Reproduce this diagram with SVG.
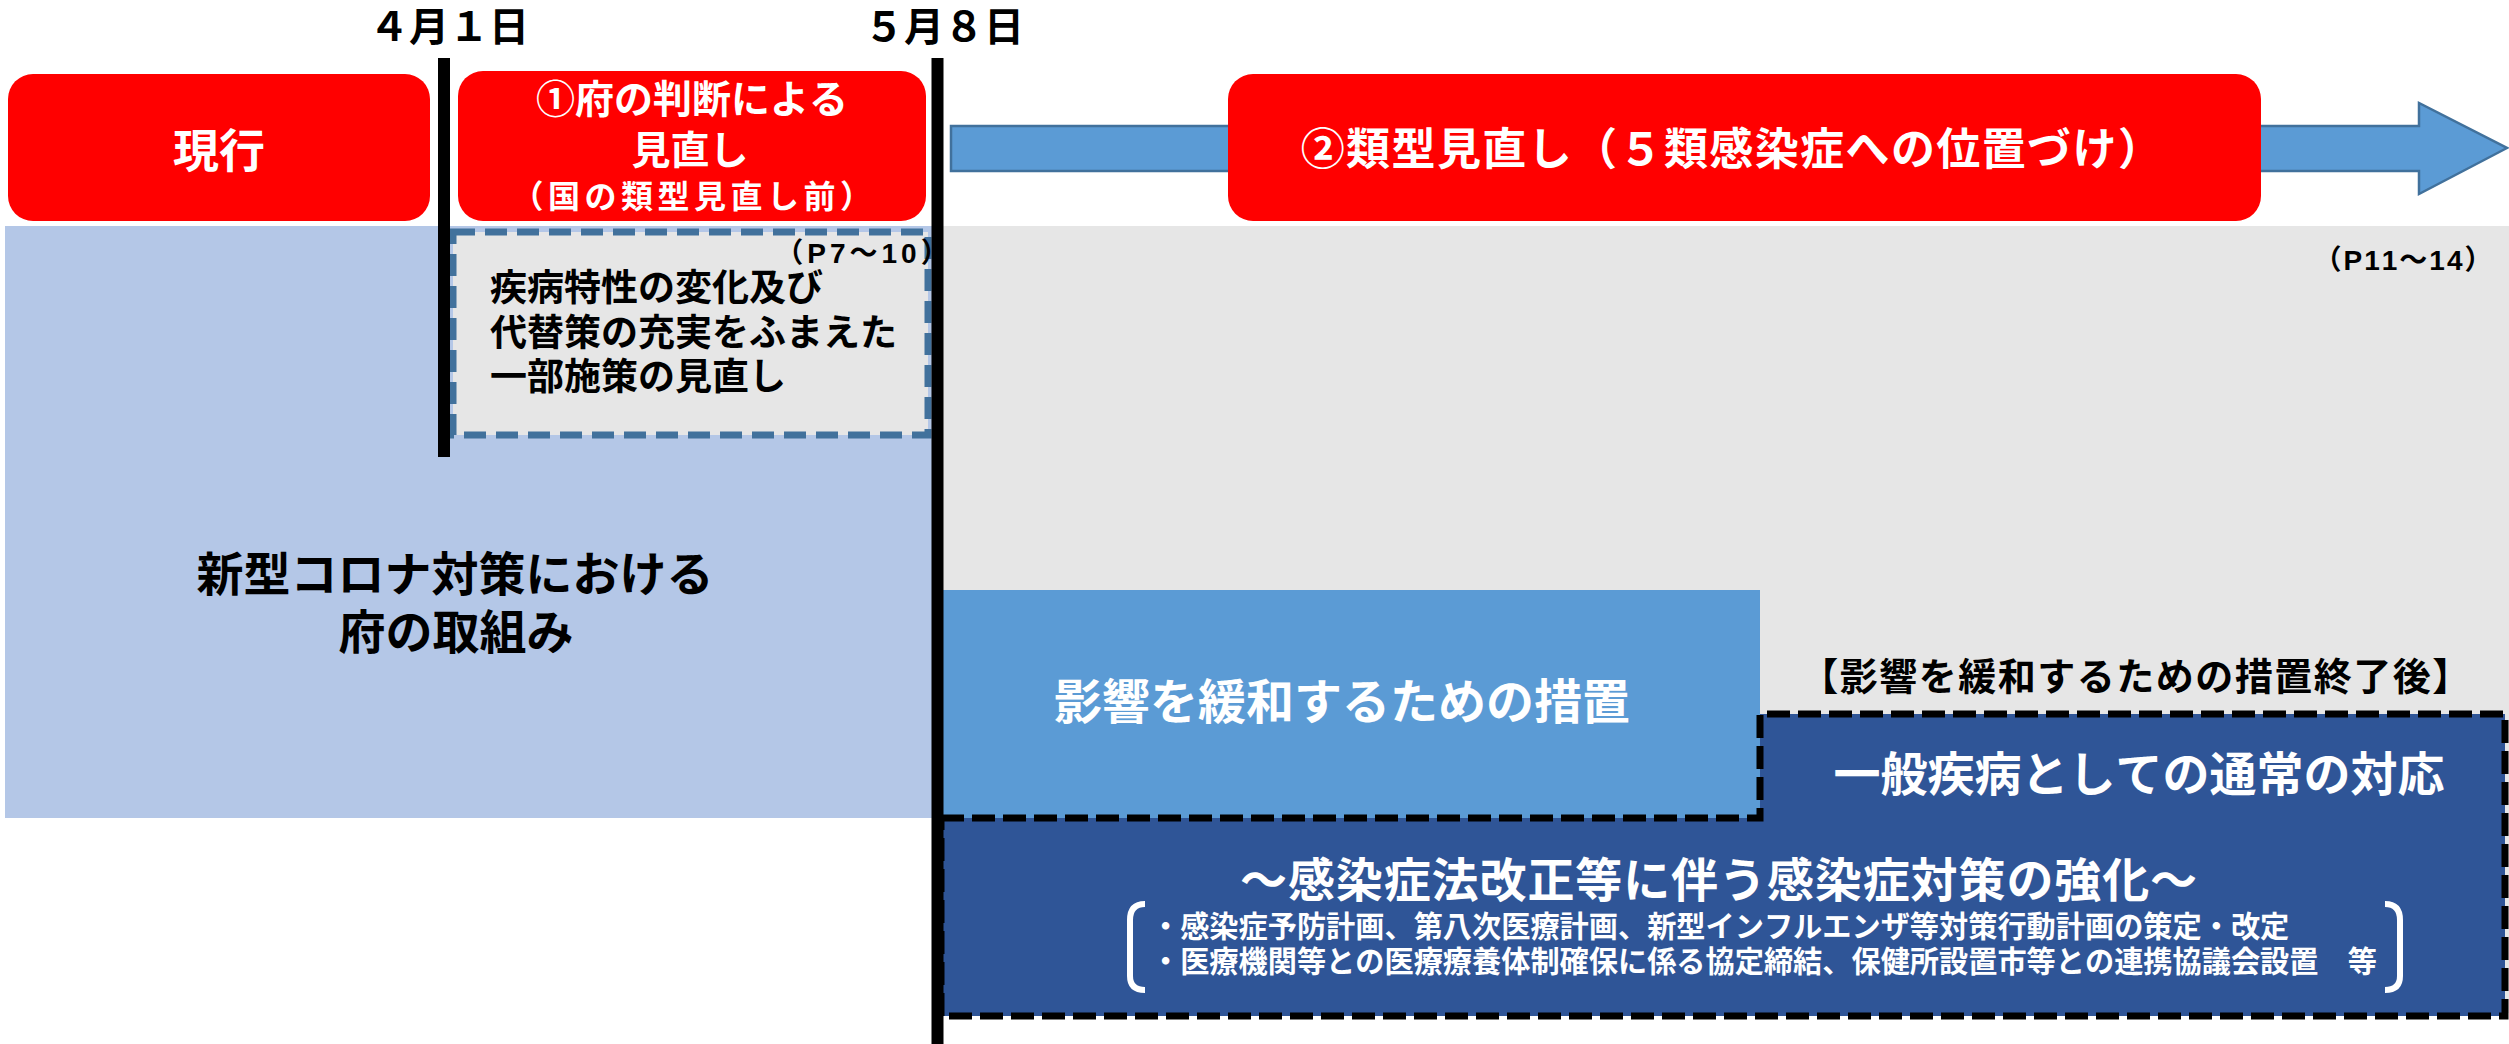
<svg xmlns="http://www.w3.org/2000/svg" width="2509" height="1044" viewBox="0 0 2509 1044">
<style>
text{font-family:"Liberation Sans","Noto Sans CJK JP",sans-serif;font-weight:bold;dominant-baseline:central;font-kerning:none}
.w{fill:#FFFFFF}
.k{fill:#000000}
.c{text-anchor:middle}
.red{fill:#FF0000}
.tl{stroke:#000000;stroke-width:12}
</style>
<rect x="0" y="0" width="2509" height="1044" fill="#FFFFFF"/>
<g id="bg-current">
<rect x="5" y="226" width="932" height="592" fill="#B4C7E7"/>
<text class="k c" font-size="47"><tspan x="455" y="574">新型コロナ対策における</tspan><tspan x="456" y="632">府の取組み</tspan></text>
</g>
<g id="bg-phase2">
<rect x="937" y="226" width="1572" height="787" fill="#E6E6E6"/>
<text class="k c" x="2404" y="260" font-size="28" letter-spacing="2">（P11～14）</text>
</g>
<g id="node-genko">
<rect class="red" x="8" y="74" width="422" height="147" rx="25"/>
<text class="w c" x="219" y="151" font-size="46">現行</text>
</g>
<g id="node-phase1">
<rect class="red" x="458" y="71" width="468" height="150" rx="25"/>
<text class="w c" font-size="39"><tspan x="692" y="99">①府の判断による</tspan><tspan x="690" y="150">見直し</tspan><tspan x="694" y="197" font-size="32" letter-spacing="4.5">（国の類型見直し前）</tspan></text>
</g>
<g id="node-phase1-detail">
<rect x="453" y="232" width="475" height="203" fill="#E6E6E6" stroke="#41719C" stroke-width="7" stroke-dasharray="22 10"/>
<text class="k c" x="864" y="253" font-size="28" letter-spacing="4">（P7～10）</text>
<text class="k" font-size="37"><tspan x="490" y="288">疾病特性の変化及び</tspan><tspan x="490" y="333">代替策の充実をふまえた</tspan><tspan x="490" y="377">一部施策の見直し</tspan></text>
</g>
<g id="node-mitigation">
<rect x="941" y="590" width="819" height="228" fill="#5B9BD5"/>
<text class="w c" x="1342" y="702" font-size="48">影響を緩和するための措置</text>
</g>
<g id="node-after-label">
<text class="k c" x="2136" y="677" font-size="38" letter-spacing="1.5">【影響を緩和するための措置終了後】</text>
</g>
<g id="node-normal">
<path d="M941,818 H1760 V714 H2505 V1016 H941 Z" fill="#2F5597" stroke="#000000" stroke-width="7" stroke-dasharray="23 8"/>
<text class="w c" x="2139" y="774" font-size="47">一般疾病としての通常の対応</text>
<text class="w" font-size="29.2"><tspan x="1719" y="880" font-size="47" text-anchor="middle" letter-spacing="0.9">～感染症法改正等に伴う感染症対策の強化～</tspan><tspan x="1151" y="927">・感染症予防計画、第八次医療計画、新型インフルエンザ等対策行動計画の策定・改定</tspan><tspan x="1151" y="962">・医療機関等との医療療養体制確保に係る協定締結、保健所設置市等との連携協議会設置　等</tspan></text>
<path d="M1145,904 Q1130,904 1130,920 V976 Q1130,990 1145,990" fill="none" stroke="#FFFFFF" stroke-width="6"/>
<path d="M2385,904 Q2400,904 2400,920 V976 Q2400,990 2385,990" fill="none" stroke="#FFFFFF" stroke-width="6"/>
</g>
<g id="connectors">
<path d="M951,126 H2419 V103 L2507,148 L2419,194 V171 H951 Z" fill="#5B9BD5" stroke="#41719C" stroke-width="2.5"/>
<line class="tl" x1="444" y1="58" x2="444" y2="457"/>
<line class="tl" x1="937.5" y1="58" x2="937.5" y2="1044"/>
</g>
<g id="node-phase2">
<rect class="red" x="1228" y="74" width="1033" height="147" rx="25"/>
<text class="w c" x="1732" y="149" font-size="44" letter-spacing="1.4">②類型見直し（５類感染症への位置づけ）</text>
</g>
<g id="date-0401">
<text class="k c" x="449" y="27" font-size="40">４月１日</text>
</g>
<g id="date-0508">
<text class="k c" x="944" y="27" font-size="40">５月８日</text>
</g>
</svg>
